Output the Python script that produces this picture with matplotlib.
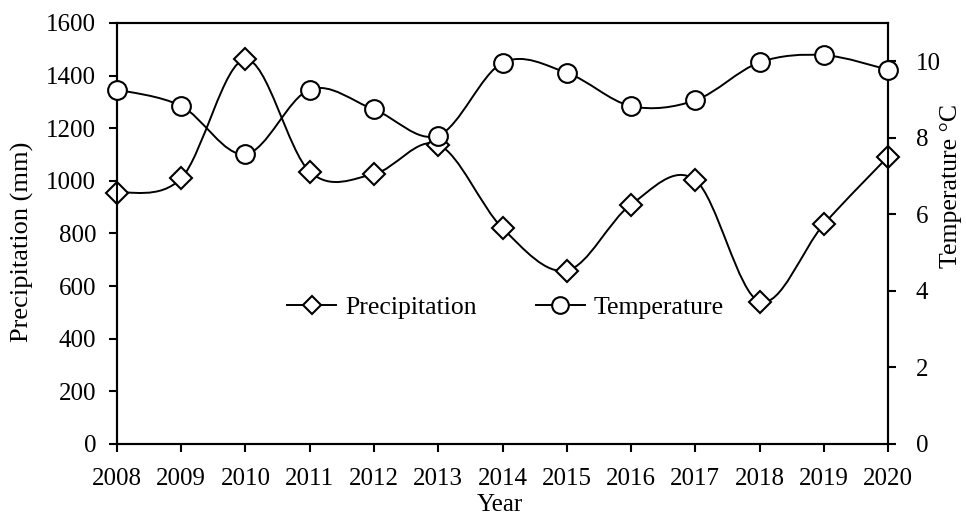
import numpy as np
import matplotlib
matplotlib.use('Agg')
import matplotlib.pyplot as plt
from matplotlib.path import Path
from matplotlib.patches import PathPatch
from matplotlib.lines import Line2D

plt.rcParams['font.family'] = ['Liberation Serif', 'DejaVu Serif']

# Données
years = [2008, 2009, 2010, 2011, 2012, 2013, 2014, 2015, 2016, 2017, 2018, 2019, 2020]
precipitation = [955, 1010, 1462, 1035, 1026, 1138, 820, 659, 910, 1003, 541, 835, 1092]
temperature = [9.26, 8.83, 7.57, 9.26, 8.74, 8.06, 9.96, 9.70, 8.83, 8.98, 9.97, 10.16, 9.78]


def smooth_path(x, y):
    # courbe lissée type Excel (Bezier Catmull-Rom)
    x = np.asarray(x, float)
    y = np.asarray(y, float)
    n = len(x)
    verts = [(x[0], y[0])]
    codes = [Path.MOVETO]
    for i in range(n - 1):
        i0 = max(i - 1, 0)
        i3 = min(i + 2, n - 1)
        c1 = (x[i] + (x[i + 1] - x[i0]) / 6, y[i] + (y[i + 1] - y[i0]) / 6)
        c2 = (x[i + 1] - (x[i3] - x[i]) / 6, y[i + 1] - (y[i3] - y[i]) / 6)
        verts += [c1, c2, (x[i + 1], y[i + 1])]
        codes += [Path.CURVE4] * 3
    return Path(verts, codes)


fig = plt.figure(figsize=(9.66, 5.18), dpi=100)
ax = fig.add_axes([0.1211, 0.1429, 0.7982, 0.8127])
ax2 = ax.twinx()

lw = 1.4
ax.add_patch(PathPatch(smooth_path(years, precipitation), fill=False, lw=lw, color='black', zorder=2))
ax2.add_patch(PathPatch(smooth_path(years, temperature), fill=False, lw=lw, color='black', zorder=2))
ax.plot(years, precipitation, ls='none', marker='D', ms=11, mfc='white', mec='black', mew=1.5,
        clip_on=False, zorder=3)
ax2.plot(years, temperature, ls='none', marker='o', ms=13.5, mfc='white', mec='black', mew=1.5,
         clip_on=False, zorder=3)

ax.set_xlim(2008, 2020)
ax.set_ylim(0, 1600)
ax2.set_ylim(0, 11)
ax.set_xticks(years)
ax.set_yticks(range(0, 1601, 200))
ax2.set_yticks(range(0, 11, 2))

fs = 18
for a in (ax, ax2):
    for s in a.spines.values():
        s.set_linewidth(1.5)
    a.tick_params(direction='out', length=6, width=1.5, labelsize=fs, colors='black')
ax.tick_params(axis='x', pad=11)
ax.tick_params(axis='y', pad=9)
ax2.tick_params(axis='y', pad=14)

ax.set_xlabel('Year', fontsize=fs, va='center')
ax.xaxis.set_label_coords(0.497, -0.145)
ax.set_ylabel('Precipitation (mm)', fontsize=19, va='center')
ax.yaxis.set_label_coords(-0.123, 0.48)
ax2.set_ylabel('Temperature °C', fontsize=18.5, va='center', rotation=90)
ax2.yaxis.set_label_coords(1.082, 0.613)

h1 = Line2D([], [], color='black', lw=lw, marker='D', ms=9, mfc='white', mec='black', mew=1.5)
h2 = Line2D([], [], color='black', lw=lw, marker='o', ms=12, mfc='white', mec='black', mew=1.5)
ax.legend([h1, h2], ['Precipitation', 'Temperature'], loc='center', bbox_to_anchor=(0.504, 0.325),
          ncol=2, frameon=False, fontsize=18.5, handlelength=1.9, handletextpad=0.35,
          columnspacing=2.3)

fig.savefig('out.png', dpi=100)
